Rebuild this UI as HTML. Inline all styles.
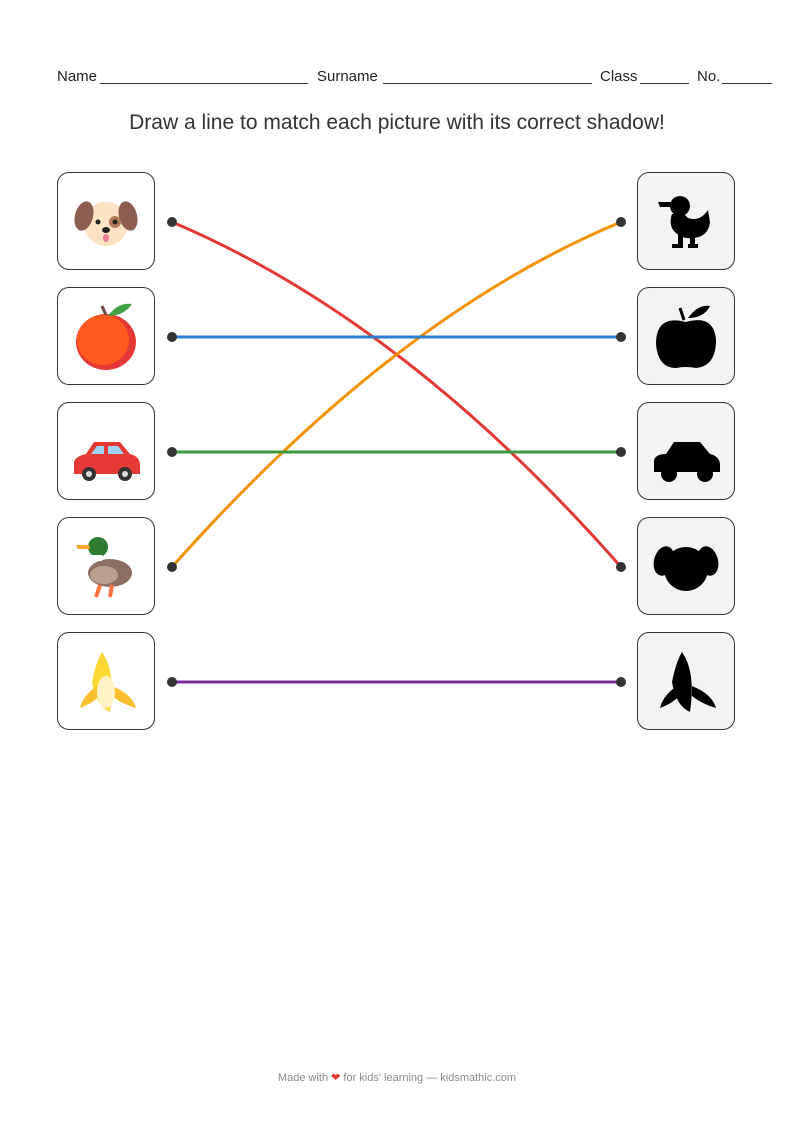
<!DOCTYPE html>
<html><head><meta charset="utf-8"><style>
html,body{margin:0;padding:0;background:#fff}
body{width:794px;height:1123px;position:relative;font-family:"Liberation Sans","DejaVu Sans",sans-serif;color:#222;overflow:hidden}
.hdr{position:absolute;top:68px;font-size:15px}
.ln{position:absolute;top:83px;border-bottom:1px solid #333;height:0}
.title{position:absolute;top:111px;left:0;width:794px;text-align:center;font-size:21px;color:#333}
.box{position:absolute;width:96px;height:96px;border:1.6px solid #333;border-radius:12px;background:#fff}
.r{background:#f3f3f3}
.foot{position:absolute;top:1071px;left:0;width:794px;text-align:center;font-size:11px;color:#8a8a8a}
svg{position:absolute;left:0;top:0}
</style></head><body>
<div class="hdr" style="left:57px">Name</div><div class="ln" style="left:100px;width:208px"></div>
<div class="hdr" style="left:317px">Surname</div><div class="ln" style="left:383px;width:209px"></div>
<div class="hdr" style="left:600px">Class</div><div class="ln" style="left:640px;width:49px"></div>
<div class="hdr" style="left:697px">No.</div><div class="ln" style="left:722px;width:50px"></div>
<div class="title">Draw a line to match each picture with its correct shadow!</div>

<div class="box" style="left:57px;top:172px"></div>
<div class="box" style="left:57px;top:287px"></div>
<div class="box" style="left:57px;top:402px"></div>
<div class="box" style="left:57px;top:517px"></div>
<div class="box" style="left:57px;top:632px"></div>
<div class="box r" style="left:637px;top:172px"></div>
<div class="box r" style="left:637px;top:287px"></div>
<div class="box r" style="left:637px;top:402px"></div>
<div class="box r" style="left:637px;top:517px"></div>
<div class="box r" style="left:637px;top:632px"></div>

<svg width="794" height="1123" viewBox="0 0 794 1123">
<g transform="translate(106,222)">
<ellipse cx="0" cy="2" rx="22" ry="22" fill="#fde3c3"/>
<ellipse cx="-22" cy="-6" rx="9" ry="15" fill="#8d5e4f" transform="rotate(15 -22 -6)"/>
<ellipse cx="22" cy="-6" rx="9" ry="15" fill="#8d5e4f" transform="rotate(-15 22 -6)"/>
<circle cx="-8" cy="0" r="2.5" fill="#222"/><circle cx="9" cy="0" r="6" fill="#b47a5a"/><circle cx="9" cy="0" r="2.5" fill="#222"/>
<ellipse cx="0" cy="8" rx="4" ry="3" fill="#222"/><ellipse cx="0" cy="16" rx="3" ry="4" fill="#e97a9a"/>
</g>
<g transform="translate(106,340)">
<ellipse cx="0" cy="2" rx="30" ry="28" fill="#e53935"/>
<ellipse cx="-3" cy="0" rx="26" ry="25" fill="#ff5a1f"/>
<path d="M0-25 L-4-34" stroke="#6d4c41" stroke-width="3"/>
<path d="M2-24 Q12-38 26-36 Q18-24 2-24Z" fill="#43a047"/>
</g>
<g transform="translate(106,462)">
<path d="M-32 12 L-32 0 Q-30-6-20-8 L-12-20 L14-20 L24-8 Q33-6 34 2 L34 12Z" fill="#e53935"/>
<path d="M-9-16 L-2-16 L-2-8 L-15-8Z M2-16 L12-16 L18-8 L2-8Z" fill="#9fd3f5"/>
<circle cx="-17" cy="12" r="7" fill="#333"/><circle cx="-17" cy="12" r="3" fill="#ddd"/>
<circle cx="19" cy="12" r="7" fill="#333"/><circle cx="19" cy="12" r="3" fill="#ddd"/>
</g>
<g transform="translate(106,567)">
<ellipse cx="4" cy="6" rx="22" ry="14" fill="#8d6e63"/>
<ellipse cx="-2" cy="8" rx="14" ry="9" fill="#bca08e"/>
<circle cx="-8" cy="-20" r="10" fill="#2e7d32"/>
<rect x="-14" y="-12" width="10" height="6" fill="#fff"/>
<path d="M-17-22 L-30-22 L-28-18 L-16-18Z" fill="#f9a825"/>
<path d="M-6 18 L-10 30 M6 18 L4 30" stroke="#ff7043" stroke-width="4"/>
</g>
<g transform="translate(106,682)">
<path d="M-4-30 Q10-10 4 30 Q-10 24-14 0 Q-10-20-4-30Z" fill="#fdd835"/>
<path d="M-2 0 Q-22 10-26 26 Q-10 20-4 10Z" fill="#fbc02d"/>
<path d="M6 4 Q26 12 30 26 Q16 22 6 14Z" fill="#fbc02d"/>
<ellipse cx="0" cy="10" rx="9" ry="16" fill="#fff3c4"/>
</g>
<g transform="translate(686,222)" fill="#000">
<circle cx="-6" cy="-16" r="10"/><path d="M-14-20 L-28-20 L-26-15 L-14-15Z"/>
<path d="M-14-8 Q-20 10 0 16 Q22 18 24 0 L22-12 Q14 0 2-4 L-2-8Z"/>
<rect x="-8" y="12" width="5" height="14"/><rect x="4" y="12" width="5" height="14"/>
<rect x="-14" y="22" width="10" height="4"/><rect x="2" y="22" width="10" height="4"/>
</g>
<g transform="translate(686,340)" fill="#000">
<path d="M0-18 Q-30-26-30 4 Q-28 28-10 28 Q0 26 10 28 Q30 26 30 0 Q28-26 0-18Z"/>
<path d="M-2-20 L-6-32" stroke="#000" stroke-width="3"/><path d="M2-22 Q12-36 24-34 Q18-22 2-22Z"/>
</g>
<g transform="translate(686,462)" fill="#000">
<path d="M-32 10 L-32 -2 Q-30-8-20-8 L-12-20 L14-20 L24-8 Q33-6 34 2 L34 10Z"/>
<circle cx="-17" cy="12" r="8"/><circle cx="19" cy="12" r="8"/>
</g>
<g transform="translate(686,567)" fill="#000">
<ellipse cx="0" cy="2" rx="22" ry="22"/>
<ellipse cx="-22" cy="-6" rx="10" ry="15" transform="rotate(15 -22 -6)"/>
<ellipse cx="22" cy="-6" rx="10" ry="15" transform="rotate(-15 22 -6)"/>
</g>
<g transform="translate(686,682)" fill="#000">
<path d="M-4-30 Q10-10 4 30 Q-10 24-14 0 Q-10-20-4-30Z"/>
<path d="M-2 0 Q-22 10-26 26 Q-10 20-4 10Z"/>
<path d="M6 4 Q26 12 30 26 Q16 22 6 14Z"/>
</g>
<g fill="none" stroke-width="3">
<path d="M172 222 Q404 320 621 567" stroke="#e53935"/>
<path d="M172 567 Q396 315 621 222" stroke="#f39200"/>
<path d="M172 337 L621 337" stroke="#2b7fd0"/>
<path d="M172 452 L621 452" stroke="#3c9a3c"/>
<path d="M172 682 L621 682" stroke="#7b2a9b"/>
</g>
<g fill="#333">
<circle cx="172" cy="222" r="5"/><circle cx="172" cy="337" r="5"/><circle cx="172" cy="452" r="5"/><circle cx="172" cy="567" r="5"/><circle cx="172" cy="682" r="5"/>
<circle cx="621" cy="222" r="5"/><circle cx="621" cy="337" r="5"/><circle cx="621" cy="452" r="5"/><circle cx="621" cy="567" r="5"/><circle cx="621" cy="682" r="5"/>
</g>
</svg>
<div class="foot">Made with <span style="color:#e53935">&#10084;</span> for kids' learning — kidsmathic.com</div>
</body></html>
